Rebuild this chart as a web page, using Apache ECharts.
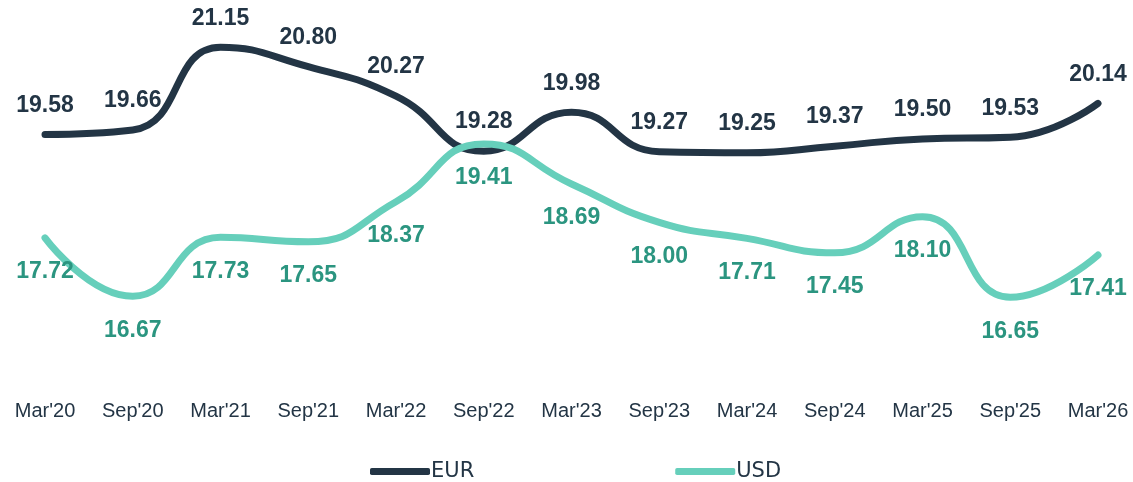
<!DOCTYPE html>
<html>
<head>
<meta charset="utf-8">
<script src="https://cdn.jsdelivr.net/npm/echarts@6/dist/echarts.min.js"></script>
<style>
  html, body { margin: 0; padding: 0; background: #fff; }
  #chart { width: 1133px; height: 482px; }
</style>
</head>
<body>
<div id="chart"></div>
<script>
const periods = ["Mar'20", "Sep'20", "Mar'21", "Sep'21", "Mar'22", "Sep'22", "Mar'23", "Sep'23", "Mar'24", "Sep'24", "Mar'25", "Sep'25", "Mar'26"]
const eur = [19.58, 19.66, 21.15, 20.80, 20.27, 19.28, 19.98, 19.27, 19.25, 19.37, 19.50, 19.53, 20.14]
const usd = [17.72, 16.67, 17.73, 17.65, 18.37, 19.41, 18.69, 18.00, 17.71, 17.45, 18.10, 16.65, 17.41]

const navy = '#233545'
const teal = '#66cfbb'
const tealText = '#2b9580'

const chart = echarts.init(document.getElementById('chart'))

const valueLabel = (pos, dist, color) => ({
  show: true,
  position: pos,
  distance: dist,
  formatter: p => p.value.toFixed(2),
  fontFamily: 'Liberation Sans',
  fontWeight: 'bold',
  fontSize: 23,
  color: color
})

chart.setOption({
  animation: false,
  grid: { left: 45, right: 35, top: 0, bottom: 93 },
  legend: {
    top: 456,
    left: 365,
    itemGap: 201,
    itemWidth: 60,
    itemHeight: 7,
    icon: 'roundRect',
    textStyle: { fontFamily: 'DejaVu Sans', fontSize: 21, color: navy, padding: [0, 0, 0, -4] },
    data: [
      { name: 'EUR', itemStyle: { color: navy } },
      { name: 'USD', itemStyle: { color: teal } }
    ]
  },
  xAxis: {
    type: 'category',
    boundaryGap: false,
    data: periods,
    axisLine: { show: false },
    axisTick: { show: false },
    axisLabel: { margin: 12, fontFamily: 'Liberation Sans', fontSize: 20, color: navy }
  },
  yAxis: {
    type: 'value',
    min: 15,
    max: 22,
    show: false
  },
  series: [
    {
      name: 'EUR',
      type: 'line',
      data: eur,
      smooth: true,
      symbol: 'circle',
      symbolSize: 1,
      showSymbol: true,
      lineStyle: { color: navy, width: 7, cap: 'round' },
      itemStyle: { color: navy },
      label: valueLabel('top', 17, navy)
    },
    {
      name: 'USD',
      type: 'line',
      data: usd,
      smooth: true,
      symbol: 'circle',
      symbolSize: 1,
      showSymbol: true,
      lineStyle: { color: teal, width: 7, cap: 'round' },
      itemStyle: { color: teal },
      label: valueLabel('bottom', 22, tealText)
    }
  ]
})
</script>
</body>
</html>
